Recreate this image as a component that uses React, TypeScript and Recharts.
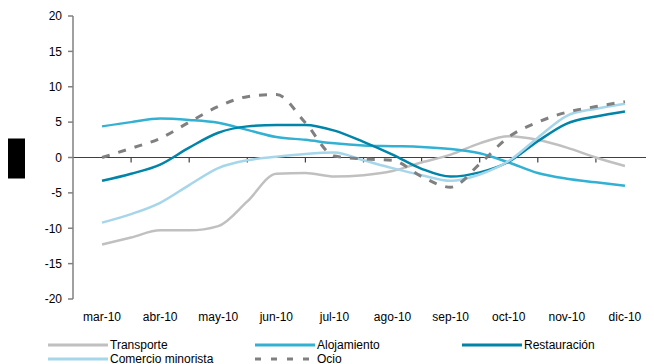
import React from 'react';
import { LineChart, Line, XAxis, YAxis, ReferenceLine, Legend, Label } from 'recharts';

const months = ['mar-10', 'abr-10', 'may-10', 'jun-10', 'jul-10', 'ago-10', 'sep-10', 'oct-10', 'nov-10', 'dic-10'];
const monthIndex = [0, 1, 2, 3, 4, 5, 6, 7, 8, 9];
const boundaries = [0.5, 1.5, 2.5, 3.5, 4.5, 5.5, 6.5, 7.5, 8.5];
const periods = [0, 0.5, 1, 1.5, 2, 2.5, 3, 3.5, 4, 4.5, 5, 5.5, 6, 6.5, 7, 7.5, 8, 8.5, 9];
const yTicks = [-20, -15, -10, -5, 0, 5, 10, 15, 20];

const transporte = [-12.3, -11.3, -10.3, -10.3, -9.7, -6.2, -2.3, -2.2, -2.7, -2.5, -1.9, -0.7, 0.4, 2.0, 3.0, 2.5, 1.4, 0.0, -1.2];
const alojamiento = [4.4, 5.0, 5.5, 5.3, 4.9, 3.9, 2.9, 2.5, 2.0, 1.7, 1.6, 1.5, 1.2, 0.6, -0.7, -2.2, -3.0, -3.5, -4.0];
const restauracion = [-3.3, -2.3, -1.0, 1.4, 3.5, 4.4, 4.6, 4.6, 3.8, 2.2, 0.4, -1.6, -2.7, -2.1, -0.6, 2.3, 4.8, 5.8, 6.5];
const comercio = [-9.2, -8.0, -6.4, -3.9, -1.5, -0.4, 0.1, 0.5, 0.7, -0.4, -1.5, -2.5, -3.3, -2.4, -0.5, 2.8, 5.9, 6.9, 7.6];
const ocio = [0, 1.3, 2.7, 5.0, 7.2, 8.6, 8.9, 4.9, 0.2, -0.2, -0.4, -2.7, -4.2, -0.9, 2.9, 5.0, 6.4, 7.2, 7.9];

const seriesNames = ['Transporte', 'Alojamiento', 'Restauración', 'Comercio minorista', 'Ocio'];

const series = [
  { key: 'transporte', name: seriesNames[0], values: transporte, color: '#C0C0C0', dash: undefined as string | undefined, width: 2.5 },
  { key: 'alojamiento', name: seriesNames[1], values: alojamiento, color: '#33B1D3', dash: undefined, width: 2.5 },
  { key: 'restauracion', name: seriesNames[2], values: restauracion, color: '#0084A8', dash: undefined, width: 2.5 },
  { key: 'comercio', name: seriesNames[3], values: comercio, color: '#A6D6EA', dash: undefined, width: 2.5 },
  { key: 'ocio', name: seriesNames[4], values: ocio, color: '#808080', dash: '8 9', width: 3 },
];

const data = periods.map((p, i) => {
  const row: Record<string, number> = { period: p };
  series.forEach((s) => {
    row[s.key] = s.values[i];
  });
  return row;
});

const legendOrder = [
  [series[0], series[1], series[2]],
  [series[3], series[4]],
];

const LegendContent = () => (
  <div style={{ height: 30, position: 'relative', fontFamily: 'Arial, "Liberation Sans", sans-serif', fontSize: 12, color: '#000' }}>
    <div style={{ position: 'absolute', top: 4, left: 0 }}>
      {legendOrder.map((row, r) => (
        <div key={r} style={{ display: 'flex', height: 14, lineHeight: '14px' }}>
          {row.map((s) => (
            <div key={s.key} style={{ width: 207, display: 'flex', alignItems: 'center', whiteSpace: 'nowrap' }}>
              <svg width={60} height={14} style={{ marginRight: 2 }}>
                <line x1={0} y1={7} x2={60} y2={7} stroke={s.color} strokeWidth={3} strokeDasharray={s.dash ? '6 10' : undefined} />
              </svg>
              <span>{s.name}</span>
            </div>
          ))}
        </div>
      ))}
    </div>
  </div>
);

const BlockLabel = (props: any) => {
  const vb = props.viewBox || { x: 0, y: 0, width: 0, height: 0 };
  const cy = vb.y + vb.height / 2;
  return <rect x={vb.x} y={cy - 19} width={17} height={40} fill="#000" />;
};

export default function App() {
  return (
    <div style={{ width: 646, height: 356, fontFamily: 'Arial, "Liberation Sans", sans-serif' }}>
      <LineChart width={646} height={356} data={data} margin={{ top: 8, right: 0, left: 0, bottom: 0 }}>
        <XAxis
          dataKey="period"
          type="number"
          domain={[-0.5, 9.5]}
          ticks={monthIndex}
          interval={0}
          tickFormatter={(v: number) => months[v]}
          axisLine={false}
          tickLine={false}
          tickSize={6}
          tickMargin={7}
          height={35}
          tick={{ fill: '#000', fontSize: 12 }}
          allowDataOverflow
        />
        <YAxis
          domain={[-20, 20]}
          ticks={yTicks}
          interval={0}
          width={65}
          tickSize={5}
          tickMargin={6}
          axisLine={{ stroke: '#808080', strokeWidth: 1.5 }}
          tickLine={{ stroke: '#808080', strokeWidth: 1.5 }}
          tick={{ fill: '#000', fontSize: 12 }}
        >
          <Label position="insideLeft" content={BlockLabel} />
        </YAxis>
        <ReferenceLine y={0} stroke="#404040" strokeWidth={1.2} />
        {boundaries.map((b) => (
          <ReferenceLine
            key={b}
            segment={[{ x: b, y: 0 }, { x: b, y: -0.7 }]}
            stroke="#404040"
            strokeWidth={1.2}
          />
        ))}
        {series.map((s) => (
          <Line
            key={s.key}
            type="monotone"
            dataKey={s.key}
            name={s.name}
            stroke={s.color}
            strokeWidth={s.width}
            strokeDasharray={s.dash}
            dot={false}
            activeDot={false}
            isAnimationActive={false}
          />
        ))}
        <Legend
          verticalAlign="bottom"
          align="left"
          content={LegendContent}
          wrapperStyle={{ left: 40, width: 606, height: 30 }}
        />
      </LineChart>
    </div>
  );
}
